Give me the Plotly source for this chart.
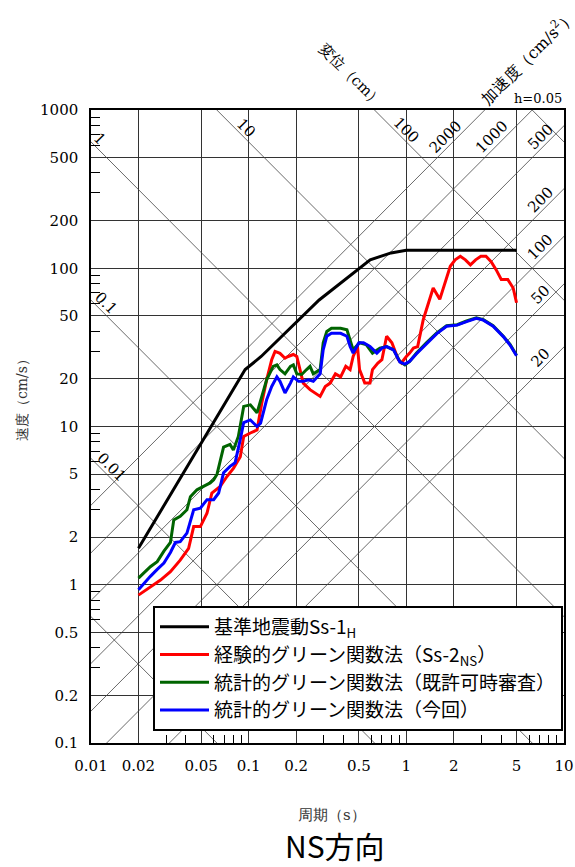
import numpy as np
import plotly.graph_objects as go

# 周期 (s) と 速度 (cm/s)
period_ss1 = [0.02, 0.085, 0.095, 0.12, 0.28, 0.59, 0.8, 1.0, 5.0]
vel_ss1 = [1.70, 19.3, 22.9, 27.7, 63.0, 113.0, 125.0, 130.0, 130.0]

period_egf = [0.02, 0.0238, 0.0276, 0.0319, 0.0368, 0.0416, 0.0448, 0.0494, 0.0544, 0.0584,
              0.066, 0.0728, 0.0802, 0.0885, 0.093, 0.1025, 0.113, 0.121, 0.130, 0.140,
              0.147, 0.158, 0.170, 0.178, 0.192, 0.202, 0.211, 0.222, 0.245, 0.284,
              0.306, 0.329, 0.355, 0.383, 0.413, 0.44, 0.46, 0.49, 0.505, 0.545,
              0.588, 0.61, 0.66, 0.70, 0.75, 0.81, 0.89, 0.93, 1.0, 1.05,
              1.11, 1.18, 1.28, 1.38, 1.48, 1.63, 1.76, 1.90, 2.04, 2.2,
              2.37, 2.55, 2.75, 2.97, 3.2, 3.45, 3.71, 4.0, 4.4, 4.76, 5.0]
vel_egf = [0.86, 0.97, 1.07, 1.21, 1.43, 1.70, 2.33, 2.33, 2.83, 3.79,
           4.18, 4.83, 5.46, 6.45, 8.65, 9.1, 9.5, 14.0, 19.7, 26.4,
           29.8, 29.0, 27.0, 27.7, 28.5, 27.7, 23.5, 18.8, 17.1, 15.5,
           17.9, 18.8, 21.5, 20.6, 24.0, 22.9, 27.7, 32.0, 22.9, 18.8,
           18.8, 22.9, 25.2, 26.4, 37.2, 33.8, 26.4, 25.2, 27.7, 29.1,
           31.3, 32.0, 47.3, 60.5, 75.1, 63.6, 81.0, 103, 113, 119,
           113, 105, 113, 119, 119, 110, 98, 85, 85, 75, 60.5]

period_sgf_old = [0.02, 0.0216, 0.0238, 0.0263, 0.029, 0.0319, 0.0335, 0.0368, 0.0406, 0.0427,
                  0.047, 0.0517, 0.057, 0.06, 0.063, 0.0693, 0.0762, 0.080, 0.086, 0.093,
                  0.1025, 0.113, 0.119, 0.130, 0.143, 0.151, 0.158, 0.170, 0.184, 0.192,
                  0.202, 0.217, 0.233, 0.245, 0.257, 0.284, 0.297, 0.313, 0.335, 0.383,
                  0.42, 0.44, 0.46, 0.505, 0.555, 0.61, 0.68, 0.75, 0.83, 0.91,
                  0.98, 1.05, 1.16, 1.34, 1.56, 1.8, 2.1, 2.41, 2.78, 3.08,
                  3.55, 4.12, 4.55, 5.0]
vel_sgf_old = [1.10, 1.18, 1.30, 1.40, 1.63, 1.85, 2.57, 2.71, 2.98, 3.6,
               3.98, 4.18, 4.4, 4.6, 5.0, 7.4, 7.7, 7.1, 8.65, 13.4,
               13.7, 12.2, 14.5, 19.7, 24.0, 24.5, 22.9, 21.5, 24.0, 24.5,
               21.5, 21.3, 22.9, 24.0, 21.5, 22.9, 33.8, 39.9, 41.8, 41.8,
               40.8, 35.5, 30.5, 33.8, 33.0, 29.1, 31.3, 32.0, 30.5, 25.8,
               24.5, 25.8, 29.1, 33.8, 39.0, 43.3, 44.0, 46.4, 48.6, 47.3,
               43.3, 37.2, 33.0, 28.2]

period_sgf_new = [0.02, 0.0216, 0.0238, 0.0263, 0.029, 0.0319, 0.0343, 0.0368, 0.0406, 0.0448,
                  0.0494, 0.0544, 0.06, 0.0645, 0.0693, 0.0762, 0.082, 0.0885, 0.093, 0.1025,
                  0.113, 0.119, 0.130, 0.140, 0.151, 0.158, 0.170, 0.184, 0.192, 0.207,
                  0.222, 0.24, 0.257, 0.284, 0.297, 0.313, 0.335, 0.383, 0.42, 0.44,
                  0.46, 0.5, 0.535, 0.588, 0.65, 0.70, 0.75, 0.83, 0.91, 0.98,
                  1.05, 1.16, 1.34, 1.56, 1.8, 2.1, 2.41, 2.78, 3.08, 3.55,
                  4.12, 4.55, 5.0]
vel_sgf_new = [0.93, 1.02, 1.13, 1.25, 1.37, 1.60, 1.85, 1.87, 2.12, 2.98,
               3.05, 3.45, 3.45, 3.8, 5.1, 5.6, 5.9, 8.3, 10.6, 11.0,
               10.0, 10.5, 14.75, 17.9, 20.6, 19.3, 16.3, 18.8, 20.6, 19.3,
               19.3, 19.7, 19.3, 21.5, 30.5, 37.2, 38.8, 38.8, 37.2, 32.0,
               29.1, 33.8, 33.8, 32.0, 29.1, 31.3, 32.0, 30.5, 25.5, 24.8,
               25.8, 28.8, 33.4, 38.6, 43.0, 43.7, 46.0, 48.2, 47.0, 43.0,
               37.0, 32.7, 28.0]

# tripartite guide lines
disp_lines = [0.001, 0.01, 0.1, 1, 10, 100, 1000]      # 変位 (cm)
acc_lines = [20, 50, 100, 200, 500, 1000, 2000]         # 加速度 (cm/s2)
disp_labels = ["0.01", "0.1", "1", "10", "100"]
acc_labels = ["20", "50", "100", "200", "500", "1000", "2000"]

x_ticks = [0.01, 0.02, 0.05, 0.1, 0.2, 0.5, 1, 2, 5, 10]
y_ticks = [0.1, 0.2, 0.5, 1, 2, 5, 10, 20, 50, 100, 200, 500, 1000]

W, H = 575, 867
L, R, T, B = 91, 11, 110, 124


def px(x):
    return (x - L) / (W - L - R)


def py(y):
    return (H - B - y) / (H - T - B)


fig = go.Figure()

grid_col = "#333333"
diag_col = "#444444"
t_span = np.array([0.005, 20.0])
for d in disp_lines:
    fig.add_trace(go.Scatter(x=t_span, y=2 * np.pi * d / t_span, mode="lines",
                             line=dict(color=diag_col, width=0.8),
                             showlegend=False, hoverinfo="skip"))
for a in acc_lines:
    fig.add_trace(go.Scatter(x=t_span, y=a * t_span / (2 * np.pi), mode="lines",
                             line=dict(color=diag_col, width=0.8),
                             showlegend=False, hoverinfo="skip"))

series = [
    ("基準地震動Ss-1<sub>H</sub>", period_ss1, vel_ss1, "#000000"),
    ("経験的グリーン関数法（Ss-2<sub>NS</sub>）", period_egf, vel_egf, "#ff0000"),
    ("統計的グリーン関数法（既許可時審査）", period_sgf_old, vel_sgf_old, "#006400"),
    ("統計的グリーン関数法（今回）", period_sgf_new, vel_sgf_new, "#0000ff"),
]
for name, xs, ys, col in series:
    fig.add_trace(go.Scatter(x=xs, y=ys, mode="lines", name=name,
                             line=dict(color=col, width=3)))

serif = "DejaVu Serif, Liberation Serif, serif"
cjk = "Noto Sans CJK JP"

ann = []
# displacement labels, placed along their lines
disp_label_t = [0.0129, 0.0119, 0.0109, 0.0924, 0.957]
for lab, t in zip(disp_labels, disp_label_t):
    v = 2 * np.pi * float(lab) / t
    ann.append(dict(x=np.log10(t), y=np.log10(v), xref="x", yref="y", text=lab,
                    textangle=45, showarrow=False, xshift=3, yshift=9,
                    xanchor="center", yanchor="middle",
                    font=dict(family=serif, size=15, color="black")))
acc_label_t = [7.38, 7.38, 7.38, 7.38, 7.38, 3.65, 1.845]
for lab, t in zip(acc_labels, acc_label_t):
    v = float(lab) * t / (2 * np.pi)
    ann.append(dict(x=np.log10(t), y=np.log10(v), xref="x", yref="y", text=lab,
                    textangle=-45, showarrow=False, xshift=-3, yshift=10,
                    xanchor="center", yanchor="middle",
                    font=dict(family=serif, size=15, color="black")))


def paper_text(x, y, text, size, angle=0, family=serif, color="black"):
    return dict(x=px(x), y=py(y), xref="paper", yref="paper", text=text,
                textangle=angle, showarrow=False, xanchor="center", yanchor="middle",
                font=dict(family=family, size=size, color=color))


ann += [
    paper_text(351, 75, "変位（cm）", 15, 45),
    paper_text(527, 57, "加速度（cm/s<sup>2</sup>）", 16, -45),
    paper_text(538, 98, "h=0.05", 13),
    paper_text(22, 397, "速度（cm/s）", 14, -90, color="#333333"),
    paper_text(332, 815, "周期（s）", 15, color="#333333"),
    paper_text(335, 845, "NS方向", 30, family=cjk),
]

minor_x = [m * 10.0 ** k for k in (-2, -1, 0) for m in (3, 4, 6, 7, 8, 9)]
minor_y = [m * 10.0 ** k for k in (-1, 0, 1, 2) for m in (3, 4, 6, 7, 8, 9)]

axis_common = dict(type="log", showline=True, mirror=True, linecolor="black", linewidth=1.5,
                   showgrid=True, gridcolor=grid_col, gridwidth=1.2, zeroline=False,
                   ticks="", tickfont=dict(family=serif, size=15, color="black"),
                   ticklabelstandoff=8, automargin=False)

fig.update_layout(
    width=W, height=H, autosize=False,
    margin=dict(l=L, r=R, t=T, b=B),
    paper_bgcolor="white", plot_bgcolor="white",
    xaxis=dict(range=[-2, 1], tickvals=x_ticks, ticktext=[str(v) for v in x_ticks],
               minor=dict(tickmode="array", tickvals=minor_x, ticks="inside", ticklen=8,
                          tickcolor="black", tickwidth=1.2, showgrid=False),
               **axis_common),
    yaxis=dict(range=[-1, 3], tickvals=y_ticks, ticktext=[str(v) for v in y_ticks],
               minor=dict(tickmode="array", tickvals=minor_y, ticks="inside", ticklen=9,
                          tickcolor="black", tickwidth=1.2, showgrid=False),
               **axis_common),
    legend=dict(x=px(153), y=py(606), xanchor="left", yanchor="top",
                bgcolor="white", bordercolor="black", borderwidth=2, itemwidth=49,
                font=dict(family=cjk, size=19, color="black")),
    annotations=ann,
    showlegend=True,
)

fig.write_html("out.html", config={"responsive": False, "displayModeBar": False},
               post_script="document.body.style.margin='0';")
